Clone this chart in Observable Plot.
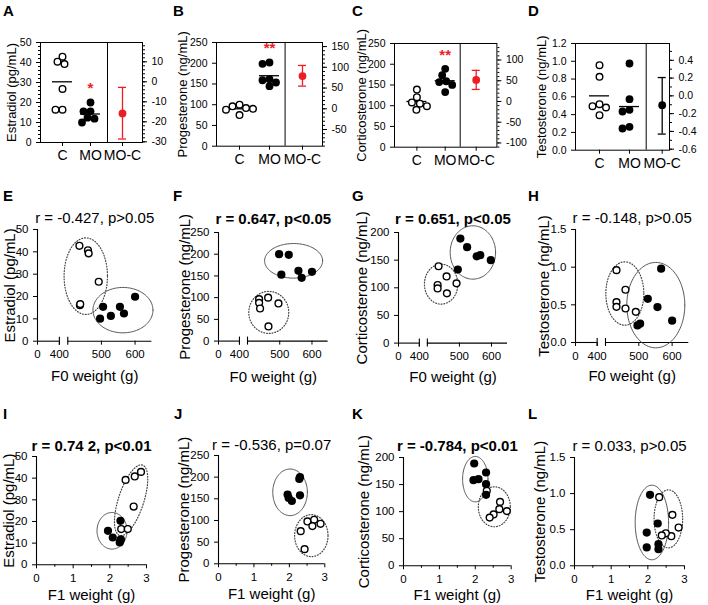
<!DOCTYPE html>
<html><head><meta charset="utf-8">
<script src="https://cdn.jsdelivr.net/npm/d3@7"></script>
<script src="https://cdn.jsdelivr.net/npm/@observablehq/plot@0.6"></script>
<style>
body{margin:0;background:#fff;}
#root{position:relative;width:708px;height:605px;background:#fff;font-family:"Liberation Sans",Arial,Helvetica,sans-serif;overflow:hidden;}
#root svg{position:absolute;overflow:visible;}
.letter{position:absolute;font-weight:bold;font-size:15px;line-height:15px;color:#000;}
</style></head><body><div id="root"></div>
<script>
// ---------------- DATA ----------------
const groupLabels = ["C", "MO", "MO-C"];
const panelLetters = ["A","B","C","D","E","F","G","H","I","J","K","L"];

// Hormone levels (top row), control (C) and MO groups
const estradiolC  = [42.9, 40.4, 39.2, 26.8, 16.4, 16.4];
const estradiolMO = [20.0, 15.6, 15.6, 12.4, 11.9, 10.0];
const progesteroneC  = [100, 96, 92, 90, 88, 75];
const progesteroneMO = [201.8, 198.6, 161.6, 159, 153.5, 144.7];
const corticosteroneC  = [139, 120.5, 108, 105, 98.8, 90];
const corticosteroneMO = [189, 173.5, 159, 157, 150, 133];
const testosteroneC  = [0.956, 0.825, 0.517, 0.495, 0.48, 0.394];
const testosteroneMO = [0.975, 0.574, 0.454, 0.435, 0.263, 0.244];
// MO-C difference of means with 95% CI
const diffMean = [-15.8, 78.8, 51.9, -0.105];
const diffLow  = [-28.6, 54.7, 29, -0.43];
const diffHigh = [-2.8, 104.5, 75, 0.206];
const signif   = ["*", "**", "**", ""];

// Correlations: [weight, hormone] pairs, open = C, filled = MO
const E_open   = [[434.6,42.7],[460,40.7],[462,39.3],[492,26.6],[436,16.1],[437,16.6]];
const E_filled = [[600,19.9],[505,15.4],[555,15.4],[567,12.4],[528,11.3],[496,10.1]];
const F_open   = [[436,96.6],[436,88],[464,100],[439,75],[496,86.7],[465,33.7]];
const F_filled = [[498,200],[528,198.6],[505,153],[558,161.8],[568,145.7],[600,159.5]];
const G_open   = [[435,139],[460,120.5],[432,105],[432,98.8],[461,90],[491,108]];
const G_filled = [[503,189],[524,173.5],[554,157],[565,159],[598,150],[495,133]];
const H_open   = [[433,0.96],[460,0.70],[433,0.535],[433,0.473],[460,0.451],[491,0.407]];
const H_filled = [[567,0.98],[527,0.58],[556,0.47],[600,0.29],[496,0.226],[504,0.25]];
const I_open   = [[2.43,39.2],[2.68,40.8],[2.85,42.9],[2.65,26.9],[2.31,16.5],[2.49,16.5]];
const I_filled = [[2.29,20.3],[1.95,15.7],[2.08,12.6],[2.29,11.1],[2.27,10.3],[2.30,11.8]];
const J_open   = [[2.51,97.7],[2.70,101.5],[2.88,92.3],[2.65,87],[2.32,75.4],[2.43,33.8]];
const J_filled = [[2.30,200],[2.28,196],[1.95,160],[1.98,152],[2.07,145],[2.30,158]];
const K_open   = [[2.32,138.5],[2.69,118],[2.88,101],[2.67,104.6],[2.51,94.8],[2.40,89]];
const K_filled = [[1.97,188.9],[2.30,172.3],[1.95,158.1],[2.09,160],[2.30,150.8],[2.30,131]];
const L_open   = [[2.31,0.95],[2.67,0.706],[2.84,0.53],[2.64,0.41],[2.49,0.45],[2.38,0.42]];
const L_filled = [[2.06,0.983],[2.27,0.586],[1.97,0.46],[2.29,0.30],[1.97,0.254],[2.29,0.23]];

const corrTitles = ["r = -0.427, p>0.05","r = 0.647, p<0.05","r = 0.651, p<0.05","r = -0.148, p>0.05",
                    "r = 0.74 2, p<0.01","r = -0.536, p=0.07","r = -0.784, p<0.01","r = 0.033, p>0.05"];
const corrBold = [false,true,true,false,true,false,true,false];
const hormoneLabels = ["Estradiol (pg/mL)","Progesterone (ng/mL)","Corticosterone (ng/mL)","Testosterone (ng/mL)"];
const xLabels = ["F0 weight (g)","F1 weight (g)"];

// ---------------- HELPERS ----------------
const RED = "#ee1d24";
const root = document.getElementById("root");
const fmt = dec => v => { let r = +(+v).toFixed(dec); if (Math.abs(r) < 1e-9) r = 0; return r.toFixed(dec); };

function place(svg, left, top) {
  svg.style.left = left + "px"; svg.style.top = top + "px";
  root.appendChild(svg);
}
function swarm(values, center, ky, r) {
  const pts = values.map(v => ({v, py: -v * ky})).sort((a, b) => a.py - b.py);
  const placed = [];
  for (const p of pts) {
    let best = 0;
    for (let k = 0; k < 80; k++) {
      const c = k === 0 ? 0 : (k % 2 ? -1 : 1) * Math.ceil(k / 2) * 0.5;
      if (placed.every(q => Math.hypot(q.dx - c, q.py - p.py) >= 2 * r - 1)) { best = c; break; }
    }
    p.dx = best; placed.push(p);
  }
  return placed.map(p => ({v: p.v, x: center + p.dx}));
}
function ellipsePts(e, kx, ky, xf) {
  const th = (e.angle || 0) * Math.PI / 180, out = [];
  for (let i = 0; i <= 120; i++) {
    const t = i / 120 * 2 * Math.PI;
    const dx = e.rx * Math.cos(t) * Math.cos(th) - e.ry * Math.sin(t) * Math.sin(th);
    const dy = e.rx * Math.cos(t) * Math.sin(th) + e.ry * Math.sin(t) * Math.cos(th);
    out.push({x: xf(e.cx) + dx / kx, y: e.cy - dy / ky});
  }
  return out;
}

// ---------------- TOP ROW ----------------
const topCfg = [
  {C: estradiolC, MO: estradiolMO, yDomain:[0,50], yTicks:d3.range(0,51,10), yMinor:d3.range(0,51,2), dec:0,
   rTicks:[-30,-20,-10,0,10], rStep:2, rDec:0, frame:{l:40,r:142,t:42,b:142}, pos:{C:22,MO:50,div:67,MOC:82}, color:RED, labelDx:-29},
  {C: progesteroneC, MO: progesteroneMO, yDomain:[0,250], yTicks:d3.range(0,251,50), yMinor:[], dec:0,
   rTicks:[-50,0,50,100,150], rStep:10, rDec:0, frame:{l:215.7,r:321.7,t:42.3,b:146}, pos:{C:23,MO:53,div:68.6,MOC:86}, color:RED, labelDx:-34},
  {C: corticosteroneC, MO: corticosteroneMO, yDomain:[0,250], yTicks:d3.range(0,251,50), yMinor:[], dec:0,
   rTicks:[-100,-50,0,50,100], rStep:10, rDec:0, frame:{l:394.3,r:496.7,t:43.3,b:147}, pos:{C:22.4,MO:50.7,div:65.7,MOC:81.7}, color:RED, labelDx:-33},
  {C: testosteroneC, MO: testosteroneMO, yDomain:[0,1.2], yTicks:d3.range(0,1.21,0.2), yMinor:[], dec:1,
   rTicks:[-0.6,-0.4,-0.2,0,0.2,0.4], rStep:0.1, rDec:1, frame:{l:575,r:669,t:43.3,b:150}, pos:{C:24,MO:54,div:70.7,MOC:86.7}, color:"#000", labelDx:-34}
];

topCfg.forEach((cfg, i) => {
  const {frame, pos, yDomain} = cfg;
  const fw = frame.r - frame.l, fh = frame.b - frame.t;
  const ky = fh / (yDomain[1] - yDomain[0]);
  const mL = 50, mR = 36, mT = 42, mB = 40;
  const offset = d3.mean(cfg.C);
  const dC = swarm(cfg.C, pos.C, ky, 4), dMO = swarm(cfg.MO, pos.MO, ky, 4);
  const lo = offset + diffLow[i], hi = offset + diffHigh[i], mid = offset + diffMean[i];
  const rT = cfg.rTicks.map(t => t + offset);
  const rMinor = d3.range(Math.ceil((yDomain[0]-offset)/cfg.rStep), Math.floor((yDomain[1]-offset)/cfg.rStep)+1)
                  .map(k => k * cfg.rStep + offset);
  const marks = [
    Plot.frame({stroke: "#000", strokeWidth: 1}),
    Plot.ruleX([pos.div], {x: d => d, stroke: "#000", strokeWidth: 1}),
    Plot.axisY({ticks: cfg.yTicks, tickFormat: fmt(cfg.dec), tickSize: 4, fontSize: 10.5, label: null}),
    Plot.axisY({ticks: rT, anchor: "right", tickFormat: v => fmt(cfg.rDec)(v - offset), tickSize: 4, fontSize: 10.5, label: null}),
    Plot.axisY({ticks: rMinor, anchor: "right", tickFormat: () => "", tickSize: 2, label: null}),
    Plot.axisX({ticks: [pos.C, pos.MO, pos.MOC], tickFormat: v => groupLabels[[pos.C, pos.MO, pos.MOC].indexOf(v)],
                tickSize: 4, tickPadding: 4, fontSize: 14, label: null}),
    Plot.text([hormoneLabels[i]], {text: d => d, frameAnchor: "left", textAnchor: "middle", dx: cfg.labelDx, rotate: -90, fontSize: 13}),
    Plot.ruleY([d3.mean(cfg.C)], {y: d => d, x1: pos.C - 10, x2: pos.C + 10, stroke: "#000", strokeWidth: 1.3}),
    Plot.ruleY([d3.mean(cfg.MO)], {y: d => d, x1: pos.MO - 10, x2: pos.MO + 10, stroke: "#000", strokeWidth: 1.3}),
    Plot.dot(dC, {x: "x", y: "v", r: 3.3, fill: "white", stroke: "#000", strokeWidth: 1.4}),
    Plot.dot(dMO, {x: "x", y: "v", r: 3.9, fill: "#000"}),
    Plot.ruleX([0], {x: pos.MOC, y1: lo, y2: hi, stroke: cfg.color, strokeWidth: 1.3}),
    Plot.ruleY([lo, hi], {y: d => d, x1: pos.MOC - 4, x2: pos.MOC + 4, stroke: cfg.color, strokeWidth: 1.3}),
    Plot.dot([mid], {x: pos.MOC, y: d => d, r: 3.9, fill: cfg.color})
  ];
  if (cfg.yMinor.length) marks.push(Plot.axisY({ticks: cfg.yMinor, tickFormat: () => "", tickSize: 2, label: null}));
  if (signif[i]) marks.push(Plot.text([signif[i]], {text: d => d, x: pos.MO, y: d3.max(cfg.MO), dy: -14, fill: RED, fontSize: 15, fontWeight: "bold"}));
  const svg = Plot.plot({
    width: fw + mL + mR, height: fh + mT + mB,
    marginLeft: mL, marginRight: mR, marginTop: mT, marginBottom: mB,
    x: {domain: [0, fw]}, y: {domain: yDomain},
    style: {fontFamily: "'Liberation Sans', Arial, sans-serif", fontSize: "11px", color: "#000", background: "transparent"},
    marks
  });
  place(svg, frame.l - mL, frame.t - mT);
});

// ---------------- SCATTER ROWS ----------------
// F0 weight axis with a break: 0–400 compressed, 400–650 linear
const brk = w => w <= 400 ? w * 65 / 400 : 90 + (w - 400);

const scatterCfg = [
  {open:E_open, filled:E_filled, yDomain:[0,50], yTicks:d3.range(0,51,10), dec:0, frame:{l:37.3,r:151.7,t:229.3,b:341}, labelDx:-27,
   ell:[{cx:453.5,cy:29.1,rx:21.7,ry:38.3,dot:true},{cx:564,cy:13.9,rx:30,ry:22.7}]},
  {open:F_open, filled:F_filled, yDomain:[0,250], yTicks:d3.range(0,251,50), dec:0, frame:{l:217.7,r:327.3,t:231.7,b:340.3}, labelDx:-33,
   ell:[{cx:543,cy:184.8,rx:29,ry:17.3},{cx:466,cy:66,rx:20,ry:21,dot:true}]},
  {open:G_open, filled:G_filled, yDomain:[0,200], yTicks:d3.range(0,201,50), dec:0, frame:{l:398.3,r:507.3,t:231.7,b:342.3}, labelDx:-36.5,
   ell:[{cx:542,cy:163.9,rx:22.7,ry:26.7},{cx:443,cy:106.6,rx:16.7,ry:20,dot:true}]},
  {open:H_open, filled:H_filled, yDomain:[0,1.5], yTicks:[0,0.5,1,1.5], dec:1, frame:{l:575,r:688.3,t:229.3,b:342.3}, labelDx:-31.5,
   ell:[{cx:551,cy:0.496,rx:29,ry:42.7},{cx:458,cy:0.65,rx:19,ry:31.7,dot:true}]},
  {open:I_open, filled:I_filled, yDomain:[0,50], yTicks:d3.range(0,51,10), dec:0, frame:{l:36,r:146,t:455.7,b:564}, labelDx:-27,
   ell:[{cx:2.06,cy:15.7,rx:15,ry:18.3},{cx:2.58,cy:29.8,rx:12.7,ry:37,angle:18,dot:true}]},
  {open:J_open, filled:J_filled, yDomain:[0,250], yTicks:d3.range(0,251,50), dec:0, frame:{l:217.7,r:324,t:455,b:563.3}, labelDx:-34,
   ell:[{cx:2.02,cy:165,rx:17.3,ry:23.3},{cx:2.62,cy:65,rx:16.7,ry:21,dot:true}]},
  {open:K_open, filled:K_filled, yDomain:[0,200], yTicks:d3.range(0,201,50), dec:0, frame:{l:403.3,r:511,t:456.7,b:565}, labelDx:-39,
   ell:[{cx:2.0,cy:160,rx:12.7,ry:22.7},{cx:2.53,cy:109,rx:16,ry:20,dot:true}]},
  {open:L_open, filled:L_filled, yDomain:[0,1.5], yTicks:[0,0.5,1,1.5], dec:1, frame:{l:574.3,r:684.3,t:456.7,b:565}, labelDx:-34,
   ell:[{cx:2.11,cy:0.6,rx:16.7,ry:37.3},{cx:2.56,cy:0.65,rx:14.3,ry:29,dot:true}]}
];

scatterCfg.forEach((cfg, j) => {
  const f0 = j < 4;
  const {frame, yDomain} = cfg;
  const xf = f0 ? brk : (v => v);
  const xDomain = f0 ? [0, brk(650)] : [0, 3];
  const fw = frame.r - frame.l, fh = frame.b - frame.t;
  const kx = fw / (xDomain[1] - xDomain[0]), ky = fh / (yDomain[1] - yDomain[0]);
  const mL = 50, mR = 20, mT = 32, mB = 48;
  const titleBase = f0 ? 223 : 450, xlabBase = f0 ? 381 : 599;
  const pts = arr => arr.map(([w, h]) => ({x: xf(w), y: h}));
  const marks = [
    Plot.ruleX([0], {x: 0, y1: yDomain[0], y2: yDomain[1], stroke: "#000", strokeWidth: 1.1}),
    Plot.axisY({ticks: cfg.yTicks, tickFormat: fmt(cfg.dec), tickSize: 4, fontSize: 11.5, label: null}),
    Plot.text([hormoneLabels[j % 4]], {text: d => d, frameAnchor: "left", textAnchor: "middle", dx: cfg.labelDx, rotate: -90, fontSize: 15}),
    Plot.text([corrTitles[j]], {text: d => d, frameAnchor: "top", textAnchor: "middle", lineAnchor: "bottom", dy: titleBase - frame.t,
                                fontSize: 15, fontWeight: corrBold[j] ? "bold" : "normal"}),
    Plot.text([xLabels[f0 ? 0 : 1]], {text: d => d, frameAnchor: "bottom", textAnchor: "middle", lineAnchor: "bottom", dy: xlabBase - frame.b, fontSize: 15})
  ];
  if (f0) {
    const tickVals = [0, 400, 500, 600];
    const d = 4 / ky;
    marks.push(
      Plot.ruleY([0], {y: 0, x1: 0, x2: brk(400), stroke: "#000", strokeWidth: 1.1}),
      Plot.ruleY([0], {y: 0, x1: brk(400) + 25, x2: brk(650), stroke: "#000", strokeWidth: 1.1}),
      Plot.ruleX([brk(400), brk(400) + 25], {x: v => v, y1: -d, y2: d, stroke: "#000", strokeWidth: 1.1}),
      Plot.axisX({ticks: tickVals.map(brk), tickFormat: v => String(tickVals[tickVals.map(brk).indexOf(v)]),
                  tickSize: 4, fontSize: 11.5, label: null})
    );
  } else {
    marks.push(
      Plot.ruleY([0], {y: 0, x1: 0, x2: 3, stroke: "#000", strokeWidth: 1.1}),
      Plot.axisX({ticks: [0, 1, 2, 3], tickFormat: fmt(0), tickSize: 4, fontSize: 11.5, label: null}),
      Plot.axisX({ticks: [0.5, 1.5, 2.5], tickFormat: () => "", tickSize: 2.5, label: null})
    );
  }
  for (const e of cfg.ell) {
    marks.push(Plot.line(ellipsePts(e, kx, ky, xf), {x: "x", y: "y", stroke: "#444", strokeWidth: e.dot ? 1.2 : 0.9,
      strokeDasharray: e.dot ? "0.9,1.9" : null}));
  }
  marks.push(
    Plot.dot(pts(cfg.open), {x: "x", y: "y", r: 3.4, fill: "white", stroke: "#000", strokeWidth: 1.4}),
    Plot.dot(pts(cfg.filled), {x: "x", y: "y", r: 4.1, fill: "#000"})
  );
  const svg = Plot.plot({
    width: fw + mL + mR, height: fh + mT + mB,
    marginLeft: mL, marginRight: mR, marginTop: mT, marginBottom: mB,
    x: {domain: xDomain}, y: {domain: yDomain},
    style: {fontFamily: "'Liberation Sans', Arial, sans-serif", fontSize: "11px", color: "#000", background: "transparent"},
    marks
  });
  place(svg, frame.l - mL, frame.t - mT);
});

// ---------------- PANEL LETTERS ----------------
const letterPos = [[3,3],[173,3],[352,3],[528,3],[3,188],[173,188],[352,188],[528,188],[3,406],[174,406],[352,406],[528,406]];
panelLetters.forEach((L, k) => {
  const d = document.createElement("div");
  d.className = "letter"; d.textContent = L;
  d.style.left = letterPos[k][0] + "px"; d.style.top = letterPos[k][1] + "px";
  root.appendChild(d);
});
</script></body></html>
